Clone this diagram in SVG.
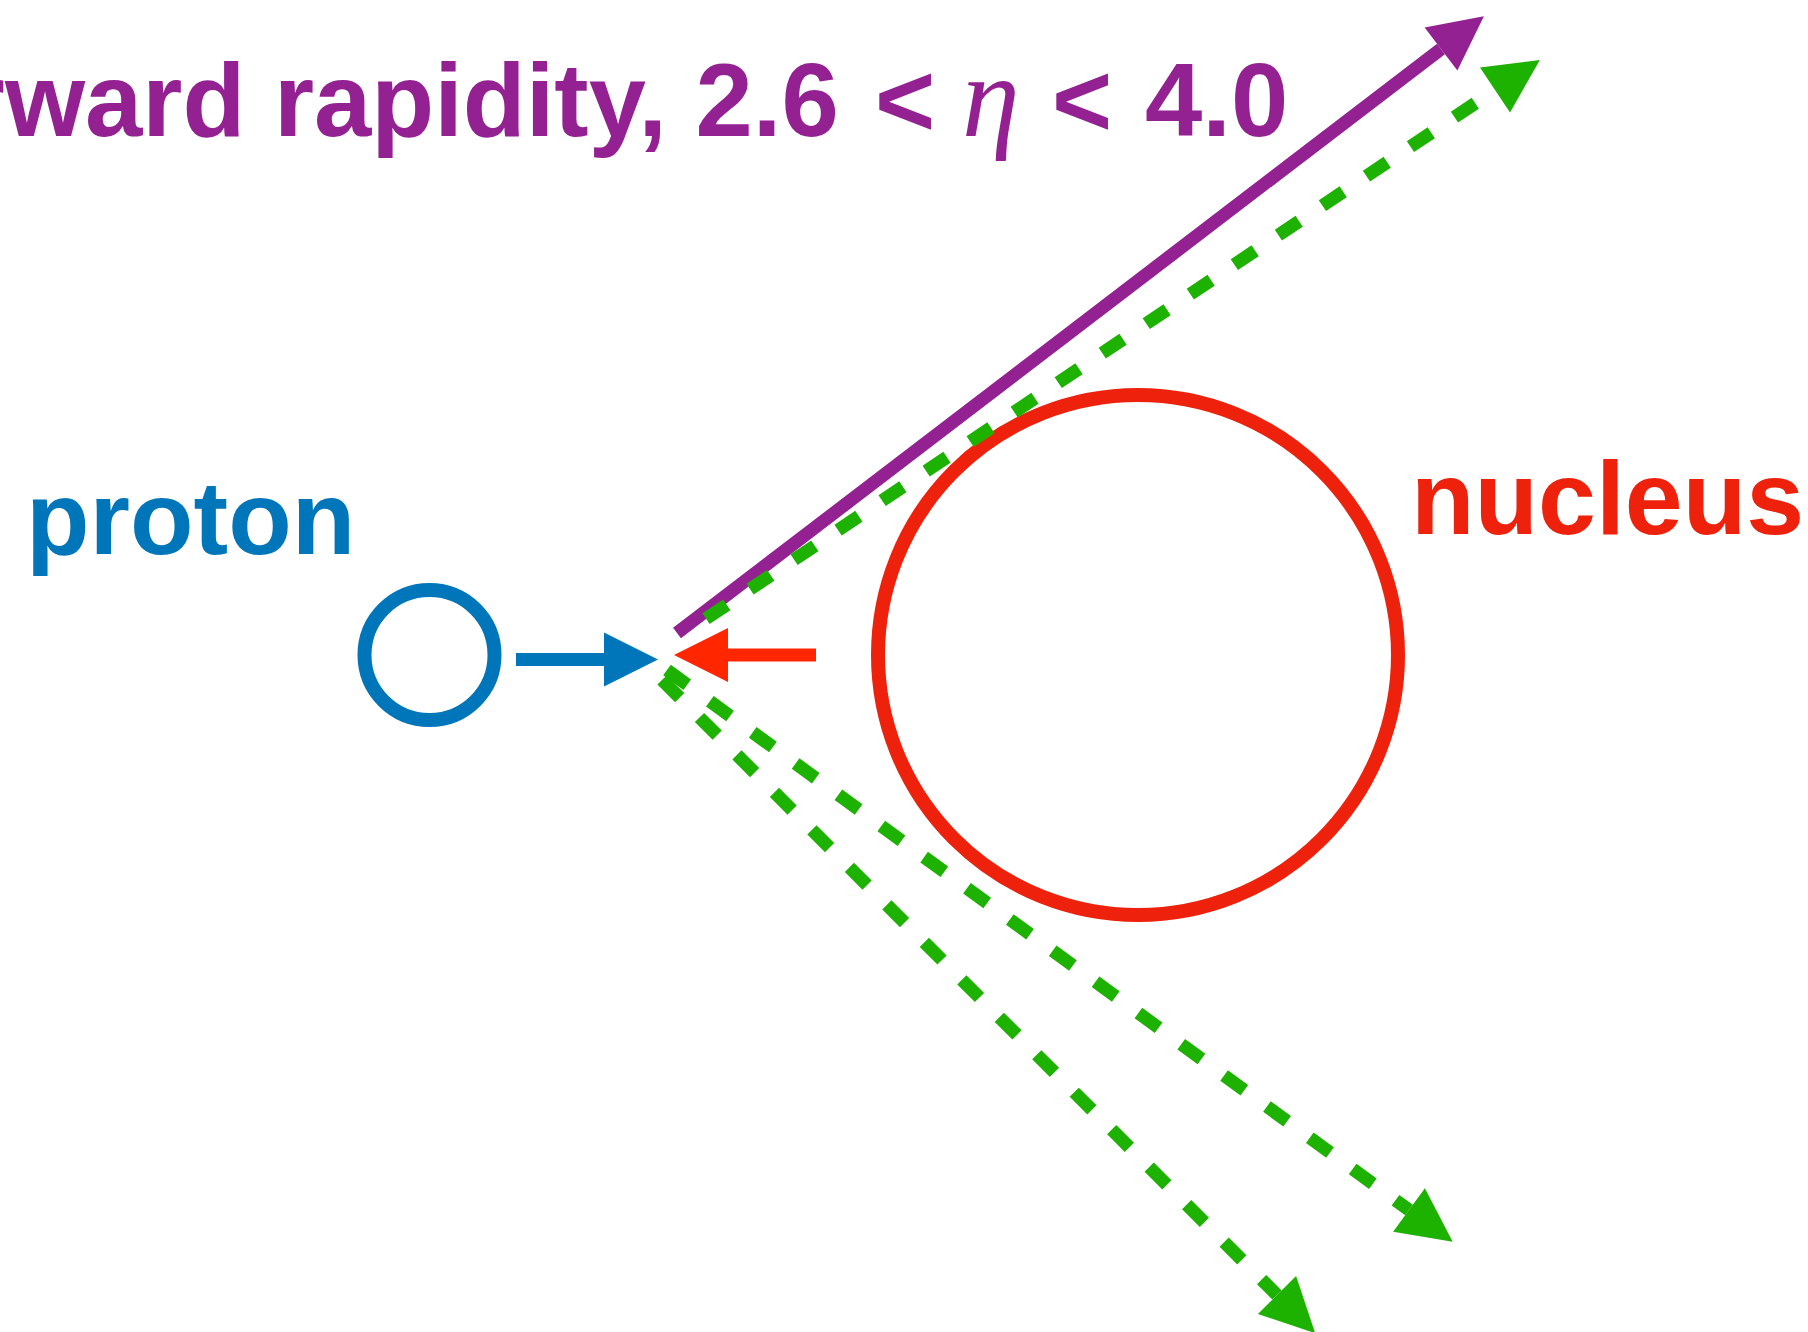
<svg xmlns="http://www.w3.org/2000/svg" width="1808" height="1332" viewBox="0 0 1808 1332">
  <style>
    .lbl { font-family: "Liberation Sans", Arial, Helvetica, sans-serif; font-weight: bold; }
    .math { font-family: "Liberation Serif", "Times New Roman", serif; font-style: italic; font-weight: normal; }
    .ring { fill: none; stroke-width: 14; }
    .beam { fill: none; stroke-width: 13; stroke-linecap: butt; }
    .dash { fill: none; stroke: #1DB100; stroke-width: 13; stroke-dasharray: 25 28; }
  </style>
  <defs>
    <marker id="hBlue" markerUnits="userSpaceOnUse" viewBox="0 -27 54 54" refX="0" refY="0" markerWidth="54" markerHeight="54" orient="auto" overflow="visible">
      <path d="M0,-27 L54,0 L0,27 Z" fill="#0076BA"/>
    </marker>
    <marker id="hRed" markerUnits="userSpaceOnUse" viewBox="0 -27 54 54" refX="0" refY="0" markerWidth="54" markerHeight="54" orient="auto" overflow="visible">
      <path d="M0,-27 L54,0 L0,27 Z" fill="#FF2600"/>
    </marker>
    <marker id="hPurple" markerUnits="userSpaceOnUse" viewBox="0 -27 54 54" refX="0" refY="0" markerWidth="54" markerHeight="54" orient="auto" overflow="visible">
      <path d="M0,-27 L54,0 L0,27 Z" fill="#942192"/>
    </marker>
    <marker id="hGreen" markerUnits="userSpaceOnUse" viewBox="0 -27 54 54" refX="0" refY="0" markerWidth="54" markerHeight="54" orient="auto" overflow="visible">
      <path d="M0,-27 L54,0 L0,27 Z" fill="#1DB100"/>
    </marker>
  </defs>
  <rect width="1808" height="1332" fill="#ffffff"/>

  <g id="title">
    <text class="lbl" y="136" font-size="103" fill="#942192"><tspan x="-161">Forward rapidity, 2.6</tspan><tspan x="875">&lt;</tspan><tspan x="962" class="math" font-size="116">η</tspan><tspan x="1052">&lt;</tspan><tspan x="1145">4.0</tspan></text>
  </g>

  <g id="proton">
    <circle class="ring" cx="429.5" cy="655" r="65" stroke="#0076BA"/>
    <text class="lbl" x="26" y="554" font-size="104" fill="#0076BA">proton</text>
  </g>

  <g id="nucleus">
    <circle class="ring" cx="1138" cy="655" r="260" stroke="#EE220C"/>
    <text class="lbl" x="1411" y="534" font-size="104" fill="#EE220C">nucleus</text>
  </g>

  <g id="connectors">
    <line class="beam" x1="677" y1="633" x2="1441" y2="49" stroke="#942192" marker-end="url(#hPurple)"/>
    <line class="dash" x1="706" y1="618.7" x2="1495" y2="90" marker-end="url(#hGreen)"/>
    <line class="dash" x1="667" y1="670" x2="1409" y2="1210" marker-end="url(#hGreen)"/>
    <line class="dash" x1="662" y1="680" x2="1277" y2="1295" marker-end="url(#hGreen)"/>
    <line class="beam" x1="516" y1="659.5" x2="604" y2="659.5" stroke="#0076BA" marker-end="url(#hBlue)"/>
    <line class="beam" x1="816" y1="655" x2="728" y2="655" stroke="#FF2600" marker-end="url(#hRed)"/>
  </g>
</svg>
